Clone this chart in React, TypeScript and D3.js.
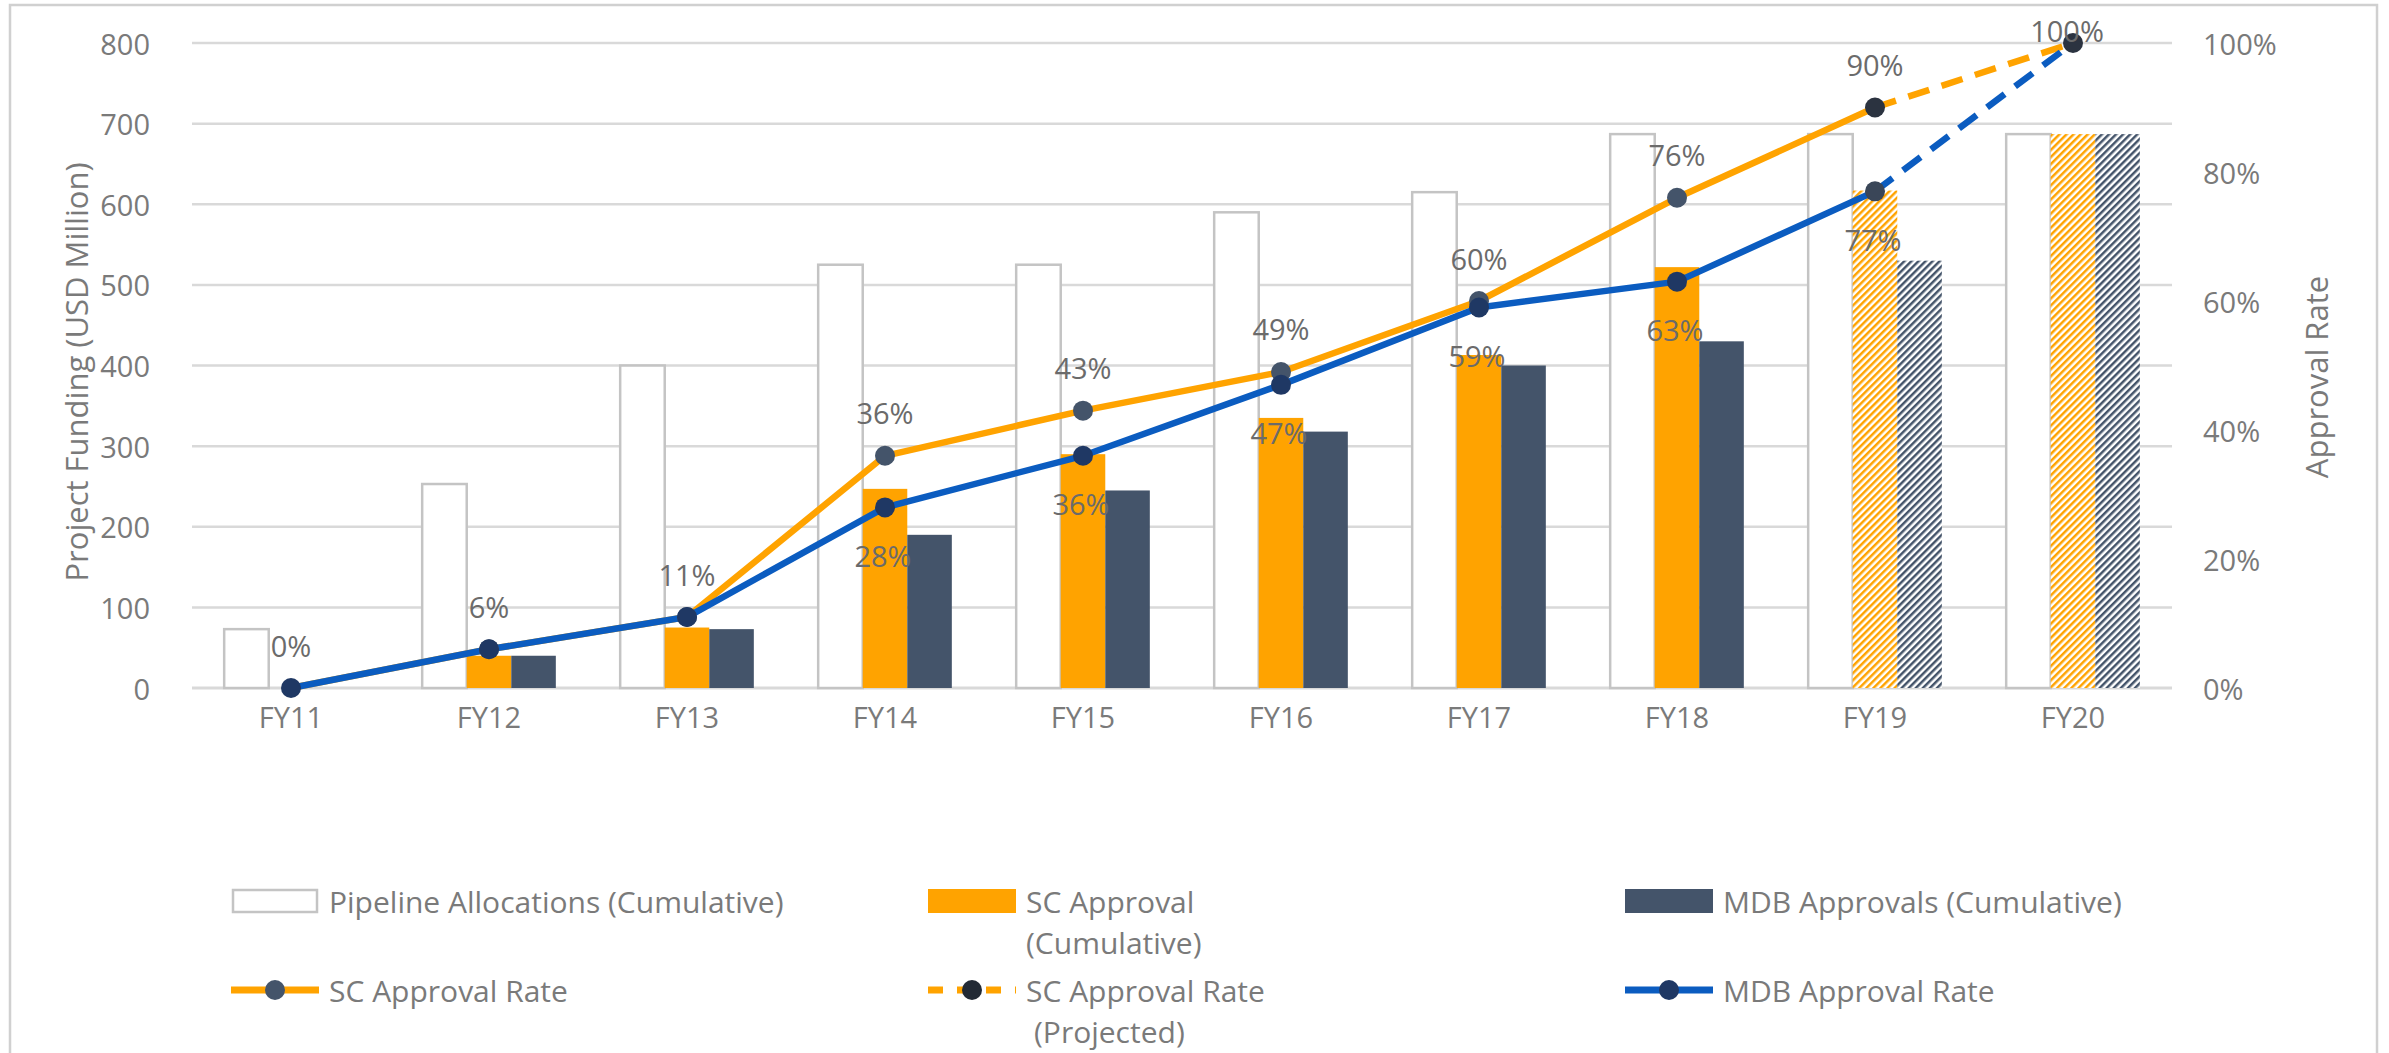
import React from 'react';
import * as d3 from 'd3';

const categories = ['FY11', 'FY12', 'FY13', 'FY14', 'FY15', 'FY16', 'FY17', 'FY18', 'FY19', 'FY20'];
const pipelineAlloc = [73, 253, 400, 525, 525, 590, 615, 687, 687, 687];
const scApproval = [0, 40, 75, 247, 290, 335, 413, 522, 617, 687];
const mdbApproval = [0, 40, 73, 190, 245, 318, 400, 430, 530, 687];
const projectedBars = [false, false, false, false, false, false, false, false, true, true];
const scRate = [0, 6, 11, 36, 43, 49, 60, 76, 90, 100];
const mdbRate = [0, 6, 11, 28, 36, 47, 59, 63, 77, 100];
const scLabelShown = [true, true, true, true, true, true, true, true, true, true];
const mdbLabelShown = [false, false, false, true, true, true, true, true, true, false];
const leftTicks = [0, 100, 200, 300, 400, 500, 600, 700, 800];
const rightTicks = [0, 20, 40, 60, 80, 100];

const W = 2389;
const H = 1053;
const FONT = "'Segoe UI', 'Open Sans', sans-serif";
const ORANGE = '#FFA300';
const SLATE = '#44546A';
const BLUE = '#0B5CC0';
const NAVY = '#1F3864';
const GRID = '#D9D9D9';
const TEXT = '#7A7A7A';
const LABEL = '#6B6B6B';

export default function App() {
  const x = d3.scaleBand<string>().domain(categories).range([192, 2172]);
  const yL = d3.scaleLinear().domain([0, 800]).range([688, 43]);
  const yR = d3.scaleLinear().domain([0, 100]).range([688, 43]);
  const bw = x.bandwidth() * 0.225;
  const cx = (i: number) => (x(categories[i]) as number) + x.bandwidth() / 2;

  const solidIdx = d3.range(0, 9);
  const scSolid = d3.line<number>().x((i) => cx(i)).y((i) => yR(scRate[i]))(solidIdx) as string;
  const mdbSolid = d3.line<number>().x((i) => cx(i)).y((i) => yR(mdbRate[i]))(solidIdx) as string;
  const scDash = d3.line<number>().x((i) => cx(i)).y((i) => yR(scRate[i]))([8, 9]) as string;
  const mdbDash = d3.line<number>().x((i) => cx(i)).y((i) => yR(mdbRate[i]))([8, 9]) as string;

  const fs = 29;
  const lfs = 30;

  const legendItems = [
    { kind: 'pipe', x: 231, y: 901, lines: ['Pipeline Allocations (Cumulative)'] },
    { kind: 'sc', x: 928, y: 901, lines: ['SC Approval', '(Cumulative)'] },
    { kind: 'mdb', x: 1625, y: 901, lines: ['MDB Approvals (Cumulative)'] },
    { kind: 'scLine', x: 231, y: 990, lines: ['SC Approval Rate'] },
    { kind: 'scProj', x: 928, y: 990, lines: ['SC Approval Rate', '(Projected)'] },
    { kind: 'mdbLine', x: 1625, y: 990, lines: ['MDB Approval Rate'] },
  ];

  return (
    <div style={{ position: 'fixed', left: 0, top: 0, width: W, height: H, background: '#fff' }}>
      <svg width={W} height={H} style={{ display: 'block', fontFamily: FONT }}>
        <defs>
          <pattern id="hatchOrange" width="5" height="5" patternUnits="userSpaceOnUse" patternTransform="rotate(45)">
            <rect width="5" height="5" fill="#ffffff" />
            <line x1="1.2" y1="0" x2="1.2" y2="5" stroke={ORANGE} strokeWidth="2.6" />
          </pattern>
          <pattern id="hatchSlate" width="5" height="5" patternUnits="userSpaceOnUse" patternTransform="rotate(45)">
            <rect width="5" height="5" fill="#ffffff" />
            <line x1="1.2" y1="0" x2="1.2" y2="5" stroke={SLATE} strokeWidth="2.6" />
          </pattern>
        </defs>
        <rect x={0} y={0} width={W} height={H} fill="#ffffff" />
        <rect x={10} y={5} width={2367} height={1080} fill="none" stroke="#D0D0D0" strokeWidth={2.5} />

        {/* gridlines */}
        {leftTicks.map((t) => (
          <line key={'g' + t} x1={192} x2={2172} y1={yL(t)} y2={yL(t)} stroke={GRID} strokeWidth={t === 0 ? 3 : 2.5} />
        ))}

        {/* ticks */}
        {leftTicks.map((t) => (
          <text key={'l' + t} x={150} y={yL(t)} textAnchor="end" dominantBaseline="central" fontSize={fs} fill={TEXT}>
            {t}
          </text>
        ))}
        {rightTicks.map((t) => (
          <text key={'r' + t} x={2203} y={yR(t)} textAnchor="start" dominantBaseline="central" fontSize={fs} fill={TEXT}>
            {t + '%'}
          </text>
        ))}
        <text transform={`translate(76,372) rotate(-90)`} textAnchor="middle" dominantBaseline="central" fontSize={31} fill={TEXT}>
          Project Funding (USD Million)
        </text>
        <text transform={`translate(2316,377) rotate(-90)`} textAnchor="middle" dominantBaseline="central" fontSize={31} fill={TEXT}>
          Approval Rate
        </text>

        {/* x labels */}
        {categories.map((c, i) => (
          <text key={'x' + c} x={cx(i)} y={716} textAnchor="middle" dominantBaseline="central" fontSize={fs} fill={TEXT}>
            {c}
          </text>
        ))}

        {/* bars */}
        {categories.map((c, i) => {
          const c0 = cx(i);
          return (
            <g key={'b' + c}>
              <rect
                x={c0 - 1.5 * bw}
                y={yL(pipelineAlloc[i])}
                width={bw}
                height={yL(0) - yL(pipelineAlloc[i])}
                fill="#ffffff"
                stroke="#C4C4C4"
                strokeWidth={2.5}
              />
              {scApproval[i] > 0 && (
                <rect
                  x={c0 - 0.5 * bw}
                  y={yL(scApproval[i])}
                  width={bw}
                  height={yL(0) - yL(scApproval[i])}
                  fill={projectedBars[i] ? 'url(#hatchOrange)' : ORANGE}
                />
              )}
              {mdbApproval[i] > 0 && (
                <rect
                  x={c0 + 0.5 * bw}
                  y={yL(mdbApproval[i])}
                  width={bw}
                  height={yL(0) - yL(mdbApproval[i])}
                  fill={projectedBars[i] ? 'url(#hatchSlate)' : SLATE}
                />
              )}
            </g>
          );
        })}

        {/* lines */}
        <path d={scSolid} fill="none" stroke={ORANGE} strokeWidth={6.5} strokeLinejoin="round" />
        <path d={scDash} fill="none" stroke={ORANGE} strokeWidth={6.5} strokeDasharray="22 13" />
        <path d={mdbSolid} fill="none" stroke={BLUE} strokeWidth={6.5} strokeLinejoin="round" />
        <path d={mdbDash} fill="none" stroke={BLUE} strokeWidth={6.5} strokeDasharray="22 13" />

        {/* markers */}
        {scRate.map((v, i) =>
          i === 0 ? null : <circle key={'sm' + i} cx={cx(i)} cy={yR(v)} r={10} fill={i >= 8 ? '#2B3340' : SLATE} />
        )}
        {mdbRate.map((v, i) =>
          i === 9 ? null : <circle key={'mm' + i} cx={cx(i)} cy={yR(v)} r={10} fill={i === 8 ? '#3A4658' : NAVY} />
        )}

        {/* data labels */}
        {scRate.map((v, i) =>
          scLabelShown[i] ? (
            <text
              key={'sl' + i}
              x={cx(i) - (i === 9 ? 6 : 0)}
              y={i === 9 ? 30 : yR(v) - 43}
              textAnchor="middle"
              dominantBaseline="central"
              fontSize={fs}
              fill={LABEL}
            >
              {v + '%'}
            </text>
          ) : null
        )}
        {mdbRate.map((v, i) =>
          mdbLabelShown[i] ? (
            <text
              key={'ml' + i}
              x={cx(i) - 2}
              y={yR(v) + 48}
              textAnchor="middle"
              dominantBaseline="central"
              fontSize={fs}
              fill={LABEL}
            >
              {v + '%'}
            </text>
          ) : null
        )}

        {/* legend */}
        {legendItems.map((it) => (
          <g key={it.kind}>
            {it.kind === 'pipe' && (
              <rect x={it.x + 2} y={it.y - 11} width={84} height={22} fill="#fff" stroke="#C4C4C4" strokeWidth={2.5} />
            )}
            {it.kind === 'sc' && <rect x={it.x} y={it.y - 12} width={88} height={24} fill={ORANGE} />}
            {it.kind === 'mdb' && <rect x={it.x} y={it.y - 12} width={88} height={24} fill={SLATE} />}
            {it.kind === 'scLine' && (
              <g>
                <line x1={it.x} x2={it.x + 88} y1={it.y} y2={it.y} stroke={ORANGE} strokeWidth={7} />
                <circle cx={it.x + 44} cy={it.y} r={10} fill={SLATE} />
              </g>
            )}
            {it.kind === 'scProj' && (
              <g>
                <line x1={it.x} x2={it.x + 88} y1={it.y} y2={it.y} stroke={ORANGE} strokeWidth={7} strokeDasharray="15 14" />
                <circle cx={it.x + 44} cy={it.y} r={10} fill="#222A35" />
              </g>
            )}
            {it.kind === 'mdbLine' && (
              <g>
                <line x1={it.x} x2={it.x + 88} y1={it.y} y2={it.y} stroke={BLUE} strokeWidth={7} />
                <circle cx={it.x + 44} cy={it.y} r={10} fill={NAVY} />
              </g>
            )}
            {it.lines.map((ln, k) => (
              <text
                key={k}
                x={it.x + 98 + (k > 0 && it.kind === 'scProj' ? 8 : 0)}
                y={it.y + k * 41}
                dominantBaseline="central"
                fontSize={lfs}
                fill={TEXT}
              >
                {ln}
              </text>
            ))}
          </g>
        ))}
      </svg>
    </div>
  );
}
